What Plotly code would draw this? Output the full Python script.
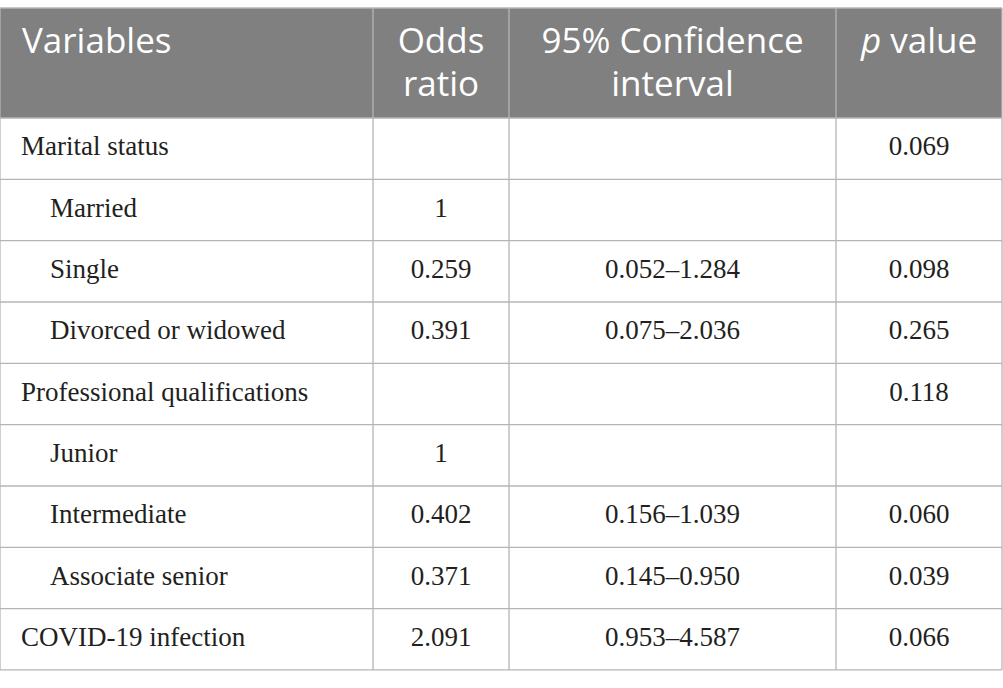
import numpy as np
import plotly.graph_objects as go

# Table contents
header_line1 = ['Variables', 'Odds', '95% Confidence', '<i>p</i> value']
header_line2 = ['', 'ratio', 'interval', '']

variables = ['Marital status', 'Married', 'Single', 'Divorced or widowed',
             'Professional qualifications', 'Junior', 'Intermediate',
             'Associate senior', 'COVID-19 infection']
indent_level = [0, 1, 1, 1, 0, 1, 1, 1, 0]
odds_ratio = ['', '1', '0.259', '0.391', '', '1', '0.402', '0.371', '2.091']
conf_int = ['', '', '0.052\u20131.284', '0.075\u20132.036', '', '',
            '0.156\u20131.039', '0.145\u20130.950', '0.953\u20134.587']
p_value = ['0.069', '', '0.098', '0.265', '0.118', '', '0.060', '0.039', '0.066']

# Geometry (pixels of the 1003x688 canvas)
W, H = 1003, 688
col_widths = [373, 136, 327, 166]
top, header_h = 8, 110
row_h = 61.33
line_col = '#b5b5b5'
header_col = '#7f807f'
text_col = '#231f20'

col_edges = np.concatenate([[0], np.cumsum(col_widths)])
col_centers = (col_edges[:-1] + col_edges[1:]) / 2
n_rows = len(variables)
row_edges = top + header_h + row_h * np.arange(n_rows + 1)
row_centers = (row_edges[:-1] + row_edges[1:]) / 2

fig = go.Figure()

# header background
fig.add_shape(type='rect', x0=col_edges[0], x1=col_edges[-1], y0=top, y1=row_edges[0],
              fillcolor=header_col, line_width=0, layer='below')

# horizontal rules
for y in np.concatenate([[top], row_edges]):
    fig.add_shape(type='line', x0=col_edges[0], x1=col_edges[-1], y0=y, y1=y,
                  line=dict(color=line_col, width=1.3))
# vertical rules
for x in col_edges:
    fig.add_shape(type='line', x0=x, x1=x, y0=top, y1=row_edges[-1],
                  line=dict(color=line_col, width=1.3))

header_font = dict(family='Open Sans', size=35, color='white')
body_font = dict(family='Liberation Serif', size=27, color=text_col)

# header text, two lines
fig.add_trace(go.Scatter(
    x=[22] + list(col_centers[1:]), y=[top + 36] * 4, text=header_line1,
    mode='text', textposition=['middle right'] + ['middle center'] * 3,
    textfont=header_font, hoverinfo='skip', showlegend=False))
fig.add_trace(go.Scatter(
    x=[22] + list(col_centers[1:]), y=[top + 79] * 4, text=header_line2,
    mode='text', textposition=['middle right'] + ['middle center'] * 3,
    textfont=header_font, hoverinfo='skip', showlegend=False))

# first column
fig.add_trace(go.Scatter(
    x=[21 + 29 * lvl for lvl in indent_level], y=row_centers, text=variables,
    mode='text', textposition='middle right',
    textfont=body_font, hoverinfo='skip', showlegend=False))

# numeric columns
for ci, col in enumerate([odds_ratio, conf_int, p_value], start=1):
    fig.add_trace(go.Scatter(
        x=[col_centers[ci]] * n_rows, y=row_centers, text=col,
        mode='text', textposition='middle center',
        textfont=body_font, hoverinfo='skip', showlegend=False))

fig.update_xaxes(range=[0, W], visible=False, fixedrange=True)
fig.update_yaxes(range=[H, 0], visible=False, fixedrange=True)
fig.update_layout(
    width=W, height=H,
    margin=dict(l=0, r=0, t=0, b=0),
    paper_bgcolor='white', plot_bgcolor='white',
)

fig.write_html("out.html", config={'displayModeBar': False},
               post_script="document.body.style.margin='0';")
